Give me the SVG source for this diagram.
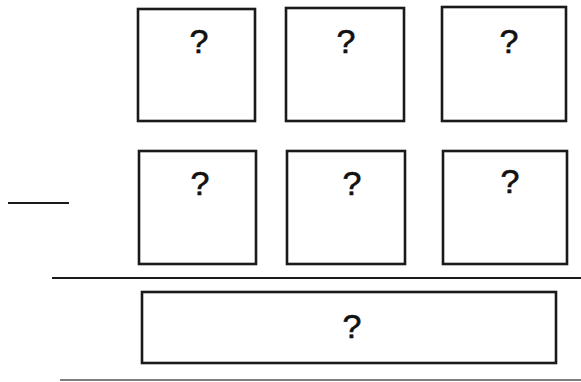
<svg xmlns="http://www.w3.org/2000/svg" width="581" height="382" viewBox="0 0 581 382">
<style>
.b{fill:#fff;stroke:#1a1a1a;stroke-width:2.6}
.t{font-family:"Liberation Sans",Arial,sans-serif;font-size:34px;fill:#111;stroke:#111;stroke-width:0.6;text-anchor:middle}
.l{stroke:#1a1a1a;stroke-width:2.2}
</style>
<rect width="581" height="382" fill="#fff"/>
<g id="minus"><line class="l" x1="8" y1="203" x2="69" y2="203"/></g>
<g id="box1"><rect class="b" x="138" y="9" width="117" height="112"/><text class="t" x="199" y="53">?</text></g>
<g id="box2"><rect class="b" x="286" y="8" width="118" height="113"/><text class="t" x="346" y="53">?</text></g>
<g id="box3"><rect class="b" x="442" y="7" width="124" height="114"/><text class="t" x="509" y="53">?</text></g>
<g id="box4"><rect class="b" x="139" y="151" width="117" height="113"/><text class="t" x="200" y="195">?</text></g>
<g id="box5"><rect class="b" x="287" y="151" width="118" height="113"/><text class="t" x="352" y="195">?</text></g>
<g id="box6"><rect class="b" x="443" y="151" width="124" height="113"/><text class="t" x="510" y="193">?</text></g>
<g id="lines">
<line class="l" x1="52" y1="278" x2="581" y2="278"/>
<line x1="60" y1="380" x2="581" y2="380" stroke="#555" stroke-width="1.5"/>
</g>
<g id="box7"><rect class="b" x="142" y="292" width="414" height="71"/><text class="t" x="352" y="338">?</text></g>
</svg>
